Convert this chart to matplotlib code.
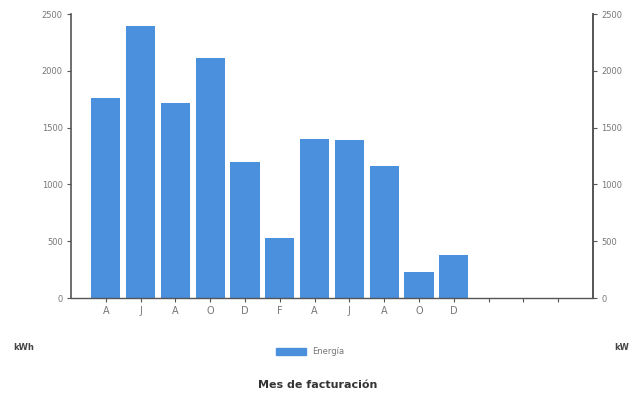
import matplotlib
matplotlib.use("Agg")
import matplotlib.pyplot as plt
from matplotlib.patches import Patch
from matplotlib import font_manager

months = ["A", "J", "A", "O", "D", "F", "A", "J", "A", "O", "D", "", "", ""]
energia = [1760, 2390, 1720, 2110, 1200, 530, 1400, 1390, 1160, 230, 380]
yticks = [0, 500, 1000, 1500, 2000, 2500]

bar_color = "#4b90dd"
axis_color = "#555555"
text_color = "#777777"

names = {f.name for f in font_manager.fontManager.ttflist}
title_family = "Liberation Sans Narrow" if "Liberation Sans Narrow" in names else "DejaVu Sans"

fig = plt.figure(figsize=(6.39, 4.03), dpi=100)
ax = fig.add_axes([71/639, 1 - 298/403, (593-71)/639, (298-14)/403])

x = list(range(len(energia)))
ax.bar(x, energia, width=0.84, color=bar_color, zorder=2)

ax.set_xlim(-1, len(months))
ax.set_ylim(0, 2500)
ax.set_xticks(range(len(months)))
ax.set_xticklabels(months, fontsize=7, color=text_color)
ax.set_yticks(yticks)
ax.set_yticklabels([str(v) for v in yticks], fontsize=6, color=text_color)
ax.tick_params(axis="y", length=3, color=axis_color, width=0.8, pad=3)
ax.tick_params(axis="x", length=3, color=axis_color, width=0.8, pad=3)

ax.spines["top"].set_visible(False)
for s in ["left", "right"]:
    ax.spines[s].set_color(axis_color)
    ax.spines[s].set_linewidth(1.2)
ax.spines["bottom"].set_color(axis_color)
ax.spines["bottom"].set_linewidth(1.0)

ax2 = ax.twinx()
ax2.set_ylim(0, 2500)
ax2.set_yticks(yticks)
ax2.set_yticklabels([str(v) for v in yticks], fontsize=6, color=text_color)
ax2.tick_params(axis="y", length=3, color=axis_color, width=0.8, pad=3)
ax2.spines["top"].set_visible(False)
ax2.spines["right"].set_color(axis_color)
ax2.spines["right"].set_linewidth(1.2)
ax2.spines["left"].set_visible(False)
ax2.spines["bottom"].set_visible(False)

fig.text(24/639, 1 - 347/403, "kWh", fontsize=6, fontweight="bold", color="#444444", ha="center", va="center")
fig.text(622/639, 1 - 347/403, "kW", fontsize=6, fontweight="bold", color="#444444", ha="center", va="center")

fig.legend(handles=[Patch(color=bar_color, label="Energía")], loc="center",
           bbox_to_anchor=(310/639, 1 - 352/403), frameon=False, fontsize=6,
           handlelength=3.6, handleheight=0.8, labelcolor=text_color)

fig.text(318/639, 1 - 385/403, "Mes de facturación", fontsize=8, fontweight="bold",
         family=title_family, color="#333333", ha="center", va="center")

fig.savefig("out.png", dpi=100)
